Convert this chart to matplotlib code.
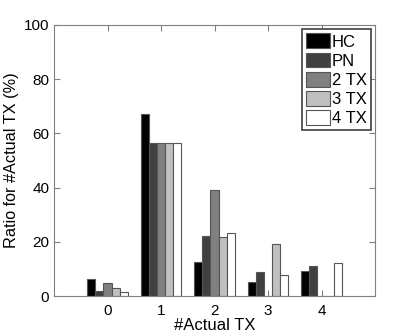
import matplotlib
matplotlib.use("Agg")
import matplotlib.pyplot as plt
import numpy as np

plt.rcParams['font.family'] = ['Liberation Sans', 'DejaVu Sans']

categories = [0, 1, 2, 3, 4]
series_names = ["HC", "PN", "2 TX", "3 TX", "4 TX"]
hc  = [6.2, 67.0, 12.5, 5.2, 9.2]
pn  = [1.8, 56.3, 22.0, 9.0, 11.0]
tx2 = [4.7, 56.3, 39.0, 0.0, 0.0]
tx3 = [2.8, 56.3, 21.6, 19.3, 0.0]
tx4 = [1.3, 56.3, 23.1, 7.6, 12.0]
series = [hc, pn, tx2, tx3, tx4]
colors = ["#000000", "#404040", "#808080", "#c0c0c0", "#ffffff"]

fig = plt.figure(figsize=(4.15, 3.34), dpi=100)
ax = fig.add_axes([54/415, 1-296/334, (375-54)/415, (296-25)/334])

x = np.arange(len(categories))
w = 0.152
for i, (vals, c, name) in enumerate(zip(series, colors, series_names)):
    ax.bar(x + (i - 2) * w, vals, width=w, color=c, edgecolor="#555555",
           linewidth=0.8, label=name)

ax.set_xlim(-1, 5)
ax.set_ylim(0, 100)
ax.set_xticks(categories)
ax.set_yticks([0, 20, 40, 60, 80, 100])
ax.tick_params(direction="in", top=True, right=True, labelsize=11,
               color="#808080", length=4)
ax.tick_params(axis="y", pad=3.5)
ax.tick_params(axis="x", pad=5.5)
for s in ax.spines.values():
    s.set_color("#808080")
ax.set_xlabel("#Actual TX", fontsize=12, labelpad=0)
ax.set_ylabel("Ratio for #Actual TX (%)", fontsize=11.7, labelpad=3)
leg = ax.legend(loc="upper right", fontsize=12, fancybox=False, framealpha=1,
                edgecolor="#404040", handlelength=1.45, handleheight=1.0,
                handletextpad=0.1, labelspacing=0.18, borderpad=0.25,
                borderaxespad=0.25)
leg.get_frame().set_linewidth(1.2)

fig.savefig("out.png", dpi=100)
